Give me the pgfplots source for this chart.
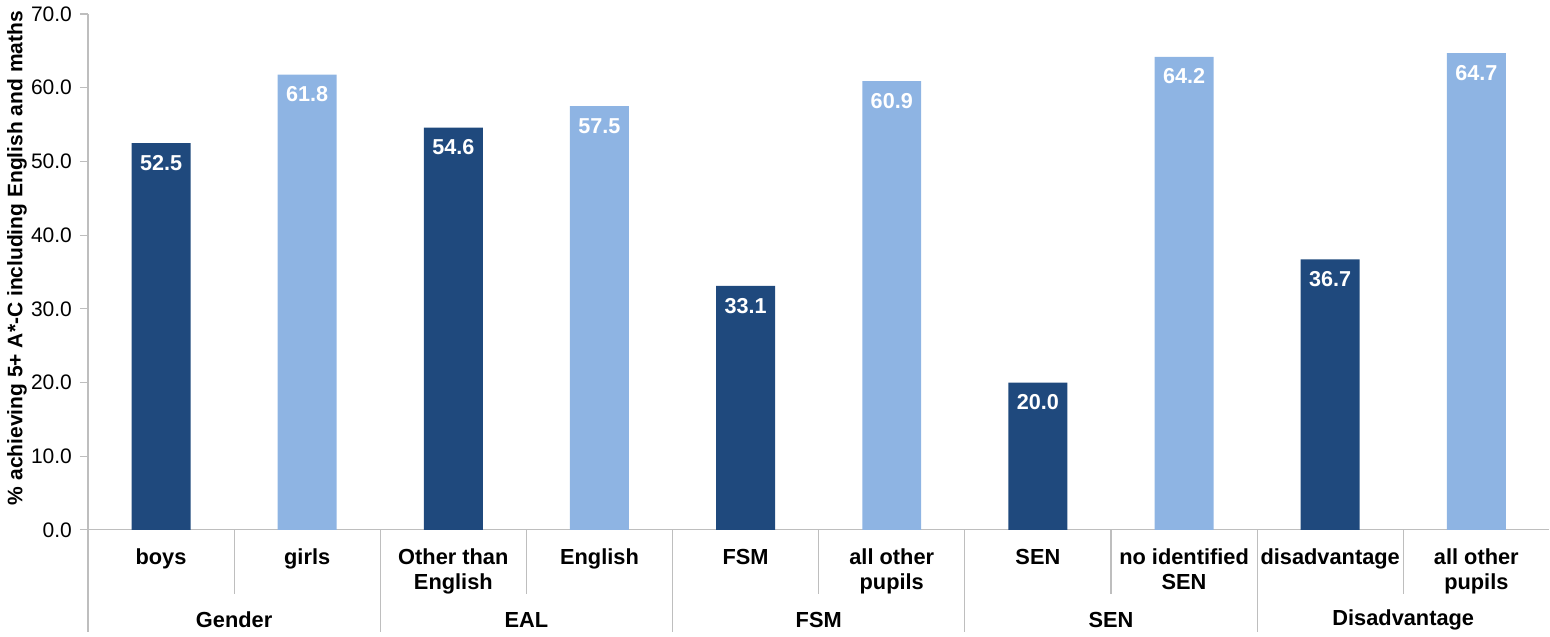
\documentclass[border=0pt]{standalone}
\usepackage{pgfplots}
\pgfplotsset{compat=1.18}
\usepackage{fontspec}
\setmainfont{Liberation Sans}
\definecolor{navy}{RGB}{31,73,125}
\definecolor{lightblue}{RGB}{142,180,227}
\definecolor{axisgray}{RGB}{190,190,190}
\begin{document}
\begin{tikzpicture}
\begin{axis}[
    scale only axis,
    width=731pt, height=258pt,
    ymin=0, ymax=70,
    xmin=-0.5, xmax=9.5,
    ytick={0,10,...,70},
    /pgf/number format/fixed,
    /pgf/number format/fixed zerofill,
    /pgf/number format/precision=1,
    /pgf/number format/assume math mode=true,
    yticklabel style={font=\fontsize{10.5}{12}\selectfont, xshift=-0.5pt},
    axis x line*=bottom,
    axis y line*=left,
    axis line style={axisgray, line width=0.6pt},
    y axis line style={-},
    x axis line style={-},
    ytick style={axisgray, line width=0.6pt},
    tick align=outside,
    major tick length=4pt,
    xtick={0,...,9},
    major x tick style={draw=none},
    xticklabels={boys, girls, Other than\\English, English, FSM, all other\\pupils, SEN, no identified\\SEN, disadvantage, all other\\pupils},
    xticklabel style={align=center, font=\bfseries\fontsize{10.9}{12.5}\selectfont, anchor=north, yshift=-2pt},
    ylabel={\% achieving 5+ A*-C including English and maths},
    ylabel style={at={(axis description cs:-0.0486,0.527)}, anchor=center, font=\bfseries\fontsize{10.5}{12}\selectfont},
    ybar, bar width=29.5pt, bar shift=0pt,
    nodes near coords,
    every node near coord/.append style={anchor=north, yshift=-2.5pt, text=white, font=\bfseries\fontsize{10.8}{12}\selectfont},
    clip=false,
]
\addplot[fill=navy, draw=none] coordinates {(0,52.5) (2,54.6) (4,33.1) (6,20.0) (8,36.7)};
\addplot[fill=lightblue, draw=none] coordinates {(1,61.8) (3,57.5) (5,60.9) (7,64.2) (9,64.7)};
% separators
\pgfplotsinvokeforeach{0.5,2.5,4.5,6.5,8.5}{
  \draw[axisgray, line width=0.6pt] (axis cs:#1,0) -- ++(0pt,-32pt);
}
\pgfplotsinvokeforeach{-0.5,1.5,3.5,5.5,7.5}{
  \draw[axisgray, line width=0.6pt] (axis cs:#1,0) -- ++(0pt,-51pt);
}
% group labels
\node[font=\bfseries\fontsize{10.9}{12}\selectfont] at ([yshift=-45pt]axis cs:0.5,0) {Gender};
\node[font=\bfseries\fontsize{10.9}{12}\selectfont] at ([yshift=-45pt]axis cs:2.5,0) {EAL};
\node[font=\bfseries\fontsize{10.9}{12}\selectfont] at ([yshift=-45pt]axis cs:4.5,0) {FSM};
\node[font=\bfseries\fontsize{10.9}{12}\selectfont] at ([yshift=-45pt]axis cs:6.5,0) {SEN};
\node[font=\bfseries\fontsize{10.9}{12}\selectfont] at ([yshift=-45pt]axis cs:8.5,0) {Disadvantage};
\path (rel axis cs:0,0) ++(-44pt,-52pt) rectangle ([yshift=7pt]rel axis cs:1,1);
\end{axis}
\end{tikzpicture}
\end{document}
